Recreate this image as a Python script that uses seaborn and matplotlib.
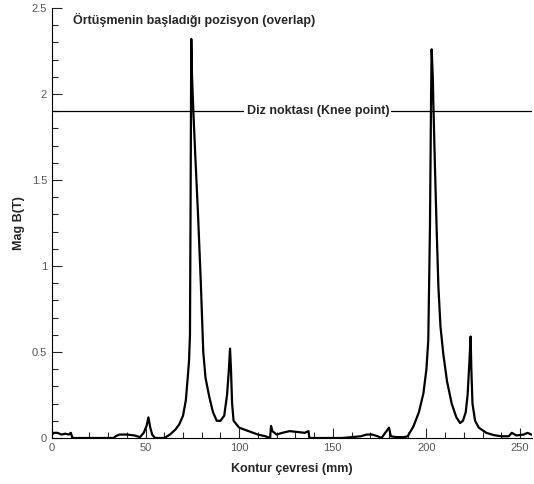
import matplotlib
matplotlib.use("Agg")
import matplotlib.pyplot as plt
import seaborn as sns
import pandas as pd
from matplotlib.ticker import MultipleLocator

# Contour position (mm) and Mag B (T)
x_mm = [0, 1, 3, 5, 7, 9, 10, 11, 15, 20, 25, 30, 33, 34, 36, 40, 44, 47, 49, 50.5, 51.5, 52.5, 53.5, 55, 58,
        60, 63, 66, 68, 70, 71.5, 72.5, 73.2, 73.7, 74.0, 74.4, 74.8, 75.5, 76.5, 78, 79.5, 80.8, 82, 84, 86, 88, 90,
        92, 93.5, 94.5, 95.1, 95.6, 96.2, 97, 100, 105, 110, 114, 116.5, 117, 117.7, 120, 123, 127, 131, 135, 137,
        137.5, 140, 145, 150, 155, 160, 165, 168, 171, 174, 176, 178, 180, 181, 184, 188,
        190, 193, 196, 198.4, 200, 201, 201.9, 202.5, 202.8, 203.4, 203.7, 204.6, 205.5, 206.4, 207.5, 209, 211,
        213.5, 216, 218, 219.5, 221, 222, 223, 223.6, 224, 224.6, 226, 228, 232, 236, 240, 244, 245.6, 248, 252,
        254, 256]
mag_b = [0.02, 0.03, 0.03, 0.02, 0.025, 0.02, 0.03, 0.0, 0.0, 0.0, 0.0, 0.0, 0.0, 0.01, 0.02, 0.02, 0.015, 0.005,
         0.03, 0.07, 0.12, 0.06, 0.02, 0.0, 0.0,
         0.0, 0.02, 0.05, 0.08, 0.13, 0.22, 0.35, 0.45, 0.6, 1.3, 2.32, 2.1, 1.9, 1.65, 1.3, 0.9, 0.5, 0.35, 0.24,
         0.15, 0.1, 0.1, 0.13, 0.25, 0.4, 0.52, 0.4, 0.2, 0.1, 0.06, 0.04, 0.02, 0.01, 0.0, 0.07, 0.04, 0.02, 0.03,
         0.04, 0.035, 0.03, 0.04, 0.0, 0.0, 0.0, 0.0, 0.0, 0.005, 0.01, 0.02, 0.02, 0.01, 0.0, 0.03, 0.06, 0.01,
         0.005, 0.005,
         0.01, 0.066, 0.15, 0.26, 0.4, 0.57, 1.23, 2.0, 2.26, 2.1, 1.95, 1.56, 1.2, 0.88, 0.65, 0.49, 0.33, 0.2,
         0.12, 0.087, 0.1, 0.15, 0.25, 0.45, 0.59, 0.4, 0.2, 0.1, 0.06, 0.03, 0.017, 0.01, 0.01, 0.03, 0.015, 0.02,
         0.03, 0.02]

knee_value = 1.9
title_text = "Örtüşmenin başladığı pozisyon (overlap)"
knee_text = "Diz noktası (Knee point)"
x_label = "Kontur çevresi (mm)"
y_label = "Mag B(T)"

df = pd.DataFrame({"x": x_mm, "y": mag_b})

sns.set_style("ticks")
plt.rcParams["font.family"] = ["Liberation Sans", "DejaVu Sans"]

fig = plt.figure(figsize=(5.34, 4.84), dpi=100)
ax = fig.add_axes([52 / 534, 46 / 484, 480 / 534, 430 / 484])

sns.lineplot(data=df, x="x", y="y", ax=ax, color="black", linewidth=1.6)

ax.axhline(knee_value, color="black", linewidth=0.9)
ax.text(142, knee_value, knee_text, ha="center", va="center", fontsize=9, fontweight="bold",
        bbox=dict(facecolor="white", edgecolor="none", pad=1.5))
ax.text(11.2, 2.43, title_text, ha="left", va="center", fontsize=9, fontweight="bold")

ax.set_xlim(0, 256.4)
ax.set_ylim(0, 2.5)
ax.xaxis.set_major_locator(MultipleLocator(50))
ax.xaxis.set_minor_locator(MultipleLocator(10))
ax.yaxis.set_major_locator(MultipleLocator(0.5))
ax.yaxis.set_minor_locator(MultipleLocator(0.1))
ax.set_yticks([0, 0.5, 1, 1.5, 2, 2.5])
ax.set_yticklabels(["0", "0.5", "1", "1.5", "2", "2.5"])
ax.tick_params(which="major", direction="in", length=7, width=0.8, labelsize=8, labelcolor="#555555")
ax.tick_params(which="minor", direction="in", length=4, width=0.8)
ax.set_xlabel(x_label, fontsize=9, fontweight="bold", labelpad=7)
ax.set_ylabel(y_label, fontsize=9, fontweight="bold", labelpad=5)

sns.despine(ax=ax, top=True, right=True)
for s in ["left", "bottom"]:
    ax.spines[s].set_linewidth(0.8)
    ax.spines[s].set_color("black")

fig.savefig("out.png", dpi=100)
